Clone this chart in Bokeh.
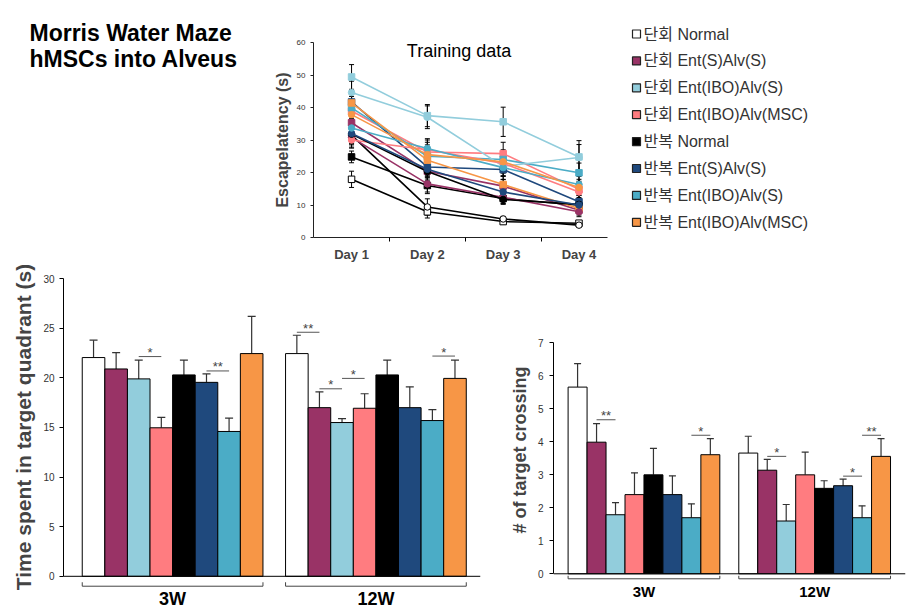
from bokeh.plotting import figure
from bokeh.layouts import row, column
from bokeh.models import (Range1d, FixedTicker, Whisker, TeeHead, ColumnDataSource,
                          Span, Label)
from bokeh.core.properties import value
from bokeh.embed import file_html
from bokeh.resources import INLINE

FONT = "Liberation Sans"
KFONT = "Liberation Sans, Noto Sans CJK KR"

# ---------------- data ----------------
title_lines = ["Morris Water Maze", "hMSCs into Alveus"]
train_title = "Training data"
train_ylabel = "Escapelatency (s)"

groups = ["단회 Normal", "단회 Ent(S)Alv(S)", "단회 Ent(IBO)Alv(S)", "단회 Ent(IBO)Alv(MSC)",
          "반복 Normal", "반복 Ent(S)Alv(S)", "반복 Ent(IBO)Alv(S)", "반복 Ent(IBO)Alv(MSC)"]
colors = ["#FFFFFF", "#993366", "#92CDDC", "#FF7C80",
          "#000000", "#1F497D", "#4BACC6", "#F79646"]

days = ["Day 1", "Day 2", "Day 3", "Day 4"]
# two training curves per group (A and B)
train_a = [[17.9, 7.9, 4.9, 4.4],
           [35.3, 20.4, 15.8, 8.4],
           [49.4, 37.5, 35.6, 24.8],
           [38.9, 26.3, 25.8, 14.8],
           [24.8, 16.0, 12.0, 9.9],
           [41.7, 21.7, 20.9, 11.0],
           [39.9, 25.0, 24.0, 19.9],
           [41.4, 23.8, 16.3, 8.9]]
train_a_err = [[2.5, 1.9, 0.7, 0.6],
               [3.0, 3.0, 2.0, 1.5],
               [3.8, 3.4, 4.5, 5.0],
               [3.0, 3.0, 3.5, 2.5],
               [1.8, 2.5, 1.5, 1.5],
               [3.5, 3.0, 3.0, 2.0],
               [3.5, 3.0, 3.0, 3.0],
               [3.5, 3.0, 2.5, 1.5]]
train_b = [[31.5, 9.4, 5.7, 3.8],
           [30.8, 16.5, 12.4, 7.9],
           [44.6, 37.0, 21.9, 24.6],
           [30.0, 27.0, 22.8, 14.0],
           [31.8, 20.3, 11.7, 10.2],
           [32.0, 21.0, 14.0, 10.0],
           [33.7, 27.4, 21.5, 16.3],
           [37.8, 25.5, 23.3, 15.4]]
train_b_err = [[3.0, 2.5, 0.8, 0.6],
               [3.0, 2.5, 2.0, 1.5],
               [3.5, 3.5, 3.0, 4.0],
               [2.5, 3.0, 3.0, 2.5],
               [3.0, 3.0, 1.5, 1.5],
               [3.0, 3.0, 2.0, 1.8],
               [3.0, 3.0, 2.5, 2.5],
               [3.0, 3.0, 3.0, 2.5]]

weeks = ["3W", "12W"]
quad_label = "Time spent in target quadrant (s)"
quad_3w = [22.05, 20.9, 19.9, 14.97, 20.3, 19.55, 14.6, 22.45]
quad_3w_err = [1.75, 1.65, 1.9, 1.05, 1.5, 0.85, 1.35, 3.75]
quad_12w = [22.45, 17.0, 15.5, 16.94, 20.3, 17.0, 15.7, 19.95]
quad_12w_err = [1.85, 1.6, 0.4, 1.46, 1.5, 2.1, 1.1, 1.85]
quad_ticks = [0, 5, 10, 15, 20, 25, 30]

cross_label = "# of target crossing"
cross_3w = [5.66, 3.99, 1.79, 2.40, 3.0, 2.40, 1.70, 3.61]
cross_3w_err = [0.71, 0.56, 0.37, 0.66, 0.8, 0.57, 0.42, 0.49]
cross_12w = [3.66, 3.14, 1.60, 3.0, 2.59, 2.67, 1.70, 3.56]
cross_12w_err = [0.51, 0.33, 0.50, 0.69, 0.23, 0.20, 0.36, 0.54]
cross_ticks = [0, 1, 2, 3, 4, 5, 6, 7]

# significance markers: (week index, bar i, bar j, height, label)
quad_sig = [(0, 2, 3, 22.15, "*"), (0, 5, 6, 20.7, "**"), (1, 0, 1, 24.6, "**"),
            (1, 1, 2, 18.9, "*"), (1, 2, 3, 19.95, "*"), (1, 6, 7, 22.2, "*")]
cross_sig = [(0, 1, 2, 4.67, "**"), (0, 6, 7, 4.2, "*"), (1, 1, 2, 3.56, "*"),
             (1, 5, 6, 2.96, "*"), (1, 6, 7, 4.2, "**")]


def base_fig(**kw):
    p = figure(toolbar_location=None, output_backend="svg", frame_align=False, **kw)
    p.outline_line_color = None
    p.xgrid.visible = False
    p.ygrid.visible = False
    return p


def blank_fig(w, h):
    p = figure(width=w, height=h, x_range=Range1d(0, w), y_range=Range1d(h, 0),
               toolbar_location=None, output_backend="svg", min_border=0,
               x_axis_type=None, y_axis_type=None, frame_align=False)
    p.outline_line_color = None
    return p


# ---------------- title ----------------
ft = blank_fig(270, 265)
ft.text(x=[29, 29], y=[32, 58], text=title_lines, text_font=value(FONT),
        text_font_size=value("23px"), text_font_style="bold",
        text_baseline="alphabetic", text_color="black")

# ---------------- training chart ----------------
fr = base_fig(width=340, height=265, x_range=Range1d(0.498, 4.376), y_range=Range1d(0, 60),
              min_border_left=41, min_border_right=3, min_border_top=42, min_border_bottom=28)
day_x = list(range(1, len(days) + 1))
for series, errs, marker in ((train_a, train_a_err, "square"), (train_b, train_b_err, "circle")):
    for g, (vals, ee) in enumerate(zip(series, errs)):
        col = colors[g]
        lc = "black" if col == "#FFFFFF" else col
        src = ColumnDataSource(dict(x=day_x, y=vals,
                                    up=[v + e for v, e in zip(vals, ee)],
                                    lo=[v - e for v, e in zip(vals, ee)]))
        fr.add_layout(Whisker(source=src, base="x", upper="up", lower="lo",
                              line_color="black", line_width=1,
                              upper_head=TeeHead(size=5, line_color="black", line_width=1),
                              lower_head=TeeHead(size=5, line_color="black", line_width=1)))
        fr.line("x", "y", source=src, line_color=lc, line_width=1.6)
        fr.scatter("x", "y", source=src, marker=marker, size=6.5, fill_color=col,
                   line_color="black" if col == "#FFFFFF" else col, line_width=1)

fr.yaxis.ticker = FixedTicker(ticks=[0, 10, 20, 30, 40, 50, 60])
fr.yaxis.major_label_text_font_size = "8px"
fr.yaxis.major_label_text_color = "#333333"
fr.yaxis.major_tick_out = 3
fr.yaxis.major_tick_in = 0
fr.yaxis.minor_tick_line_color = None
fr.yaxis.major_label_standoff = 5
fr.yaxis.axis_label = train_ylabel
fr.yaxis.axis_label_text_font = FONT
fr.yaxis.axis_label_text_font_style = "bold"
fr.yaxis.axis_label_text_font_size = "16px"
fr.yaxis.axis_label_standoff = 3
fr.xaxis.ticker = FixedTicker(ticks=day_x, minor_ticks=[1.5, 2.5, 3.5])
fr.xaxis.major_label_overrides = {d: lab for d, lab in zip(day_x, days)}
fr.xaxis.major_label_text_font = FONT
fr.xaxis.major_label_text_font_style = "bold"
fr.xaxis.major_label_text_font_size = "13px"
fr.xaxis.major_label_standoff = 5
fr.xaxis.major_tick_out = 0
fr.xaxis.major_tick_in = 0
fr.xaxis.minor_tick_out = 4
fr.xaxis.minor_tick_in = 0
for ax in (fr.xaxis, fr.yaxis):
    ax.axis_line_color = "#222222"
    ax.major_tick_line_color = "#222222"
    ax.major_label_text_font = FONT
fr.add_layout(Label(x=2.418, y=57.4, text=train_title, text_align="center",
                    text_baseline="alphabetic", text_font=FONT, text_font_size="18px",
                    text_color="black"))

# ---------------- legend ----------------
fl = blank_fig(305, 265)
leg_y = [33.5 + 26.9 * i for i in range(len(groups))]
fl.scatter(x=[26] * len(groups), y=leg_y, marker="square", size=8, fill_color=colors,
           line_color="#222222", line_width=1.2)
fl.text(x=[33] * len(groups), y=leg_y, text=groups, text_font=value(KFONT),
        text_font_size=value("16px"), text_baseline="middle", text_color="#333333")


# ---------------- bar charts ----------------
def bar_chart(width, xr, yr, borders, v3, e3, v12, e12, ticks, ylabel, ylabel_size,
              sig, brk_y, brk_up, week_size, head, star_off, ystand, lab_stand):
    p = base_fig(width=width, height=346, x_range=Range1d(*xr), y_range=Range1d(*yr),
                 min_border_left=borders[0], min_border_right=borders[1],
                 min_border_top=borders[2], min_border_bottom=borders[3])
    n = len(groups)
    xs, tops, errs, cols = [], [], [], []
    for w, (vals, ee) in enumerate(((v3, e3), (v12, e12))):
        for i in range(n):
            xs.append(w * (n + 1) - (n - 1) / 2 + i)
            tops.append(vals[i])
            errs.append(ee[i])
            cols.append(colors[i])
    src = ColumnDataSource(dict(x=xs, top=tops, up=[t + e for t, e in zip(tops, errs)],
                                color=cols))
    p.add_layout(Whisker(source=src, base="x", upper="up", lower="top",
                         line_color="#333333", line_width=1.2,
                         upper_head=TeeHead(size=head, line_color="#333333", line_width=1.2),
                         lower_head=None, level="underlay"))
    p.vbar(x="x", top="top", bottom=0, width=1, source=src, fill_color="color",
           line_color="black", line_width=1)
    p.add_layout(Span(location=0, dimension="width", line_color="black", line_width=1))
    # group brackets
    bx, by = [], []
    for w in range(len(weeks)):
        x0 = w * (n + 1) - (n - 1) / 2 - 0.5
        x1 = x0 + n
        bx.append([x0, x0, x1, x1])
        by.append([brk_up, brk_y, brk_y, brk_up])
    p.multi_line(bx, by, line_color="#444444", line_width=1)
    # significance
    sx, sy, tx, ty, tt = [], [], [], [], []
    for (w, i, j, h, lab) in sig:
        xa = w * (n + 1) - (n - 1) / 2 + i
        xb = w * (n + 1) - (n - 1) / 2 + j
        sx.append([xa, xb])
        sy.append([h, h])
        tx.append((xa + xb) / 2)
        ty.append(h)
        tt.append(lab)
    p.multi_line(sx, sy, line_color="#555555", line_width=1)
    p.text(x=tx, y=ty, text=tt, text_font=value(FONT), text_font_size=value("13px"),
           text_align="center", text_baseline="alphabetic", y_offset=star_off,
           text_color="#444444")
    # axes
    p.yaxis.ticker = FixedTicker(ticks=ticks)
    p.yaxis.bounds = (ticks[0], ticks[-1])
    p.yaxis.axis_line_color = "black"
    p.yaxis.major_tick_line_color = "black"
    p.yaxis.major_tick_out = 4
    p.yaxis.major_tick_in = 0
    p.yaxis.minor_tick_line_color = None
    p.yaxis.major_label_text_font = FONT
    p.yaxis.major_label_text_font_size = "10px"
    p.yaxis.major_label_text_color = "#333333"
    p.yaxis.major_label_standoff = ystand
    p.yaxis.axis_label = ylabel
    p.yaxis.axis_label_text_font = FONT
    p.yaxis.axis_label_text_font_style = "bold"
    p.yaxis.axis_label_text_font_size = ylabel_size
    p.yaxis.axis_label_standoff = 5
    centers = [w * (n + 1) for w in range(len(weeks))]
    p.xaxis.ticker = FixedTicker(ticks=centers)
    p.xaxis.major_label_overrides = {c: wk for c, wk in zip(centers, weeks)}
    p.xaxis.axis_line_color = None
    p.xaxis.major_tick_line_color = None
    p.xaxis.minor_tick_line_color = None
    p.xaxis.major_tick_out = 0
    p.xaxis.major_tick_in = 0
    p.xaxis.major_label_standoff = lab_stand
    p.xaxis.major_label_text_font = FONT
    p.xaxis.major_label_text_font_style = "bold"
    p.xaxis.major_label_text_font_size = week_size
    p.xaxis.major_label_text_color = "black"
    return p


fb1 = bar_chart(490, (-4.83, 13.63), (-1.23, 31.33), (63, 10, 0, 21),
                quad_3w, quad_3w_err, quad_12w, quad_12w_err, quad_ticks,
                quad_label, "21px", quad_sig, -1.0, -0.6, "18px", 8, -4, 5, 0)
fb2 = bar_chart(425, (-4.77, 13.79), (-0.234, 7.74), (63, 10, 53, 30),
                cross_3w, cross_3w_err, cross_12w, cross_12w_err, cross_ticks,
                cross_label, "18px", cross_sig, -0.152, -0.06, "15px", 7, -4, 6, 1)

layout = column(row(ft, fr, fl), row(fb1, fb2))
open("out.html", "w").write(file_html(layout, INLINE))
